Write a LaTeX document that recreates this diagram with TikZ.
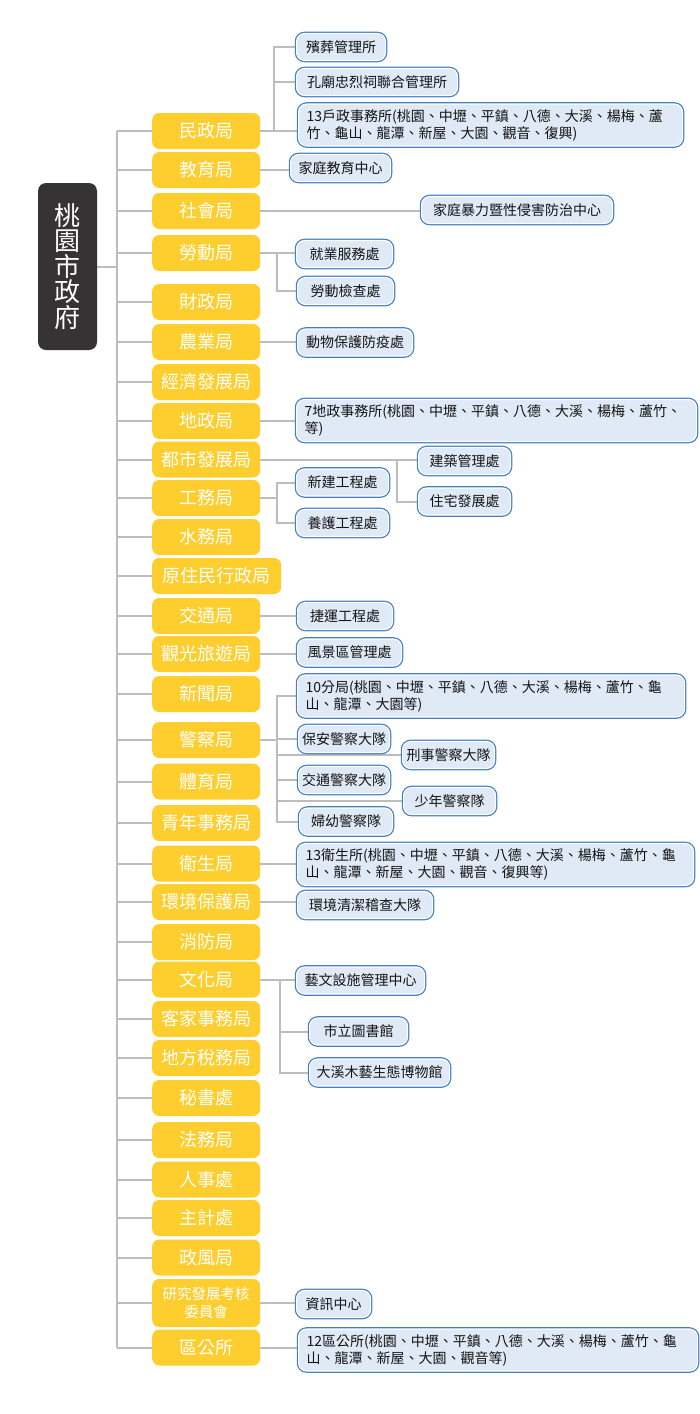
\documentclass[tikz,border=0pt]{standalone}
\usepackage{fontspec}
\setmainfont{Noto Sans CJK TC}
\usepackage{tikz}
\usetikzlibrary{backgrounds}

\definecolor{deptyellow}{HTML}{FDCE2E}
\definecolor{rootgray}{HTML}{363334}
\definecolor{linkgray}{HTML}{BDBDBD}
\definecolor{unitblue}{HTML}{4380C4}
\definecolor{unitfill}{HTML}{E0E9F6}

\tikzset{
  dept/.style={fill=deptyellow, rounded corners=7pt, minimum width=108pt, minimum height=36pt,
    inner sep=0pt, text=white, font=\fontsize{18}{20}\selectfont, anchor=west},
  unit/.style={preaction={draw=unitblue, line width=3.6pt}, fill=unitfill, draw=white, line width=1.1pt,
    rounded corners=8pt, minimum height=27pt, inner xsep=3pt, inner ysep=2pt,
    text=black!92, font=\fontsize{14}{17}\selectfont, anchor=west},
  wideunit/.style={unit, inner xsep=8pt, align=left, minimum height=42pt},
  link/.style={draw=linkgray, line width=2pt}
}

\begin{document}
\begin{tikzpicture}[x=1pt, y=-1pt]
    \useasboundingbox (0,0) rectangle (700,1414);

    % root
    \node[fill=rootgray, rounded corners=8pt, minimum width=59pt, minimum height=167pt, inner sep=0pt,
      text=white, align=center, font=\fontsize{26}{25.5}\selectfont] (gov) at (67.5,266.5) {桃\\園\\市\\政\\府};
    \coordinate (tr) at (117,0);

    % departments
    \node[dept] (civil) at (152,131) {民政局};
    \node[dept] (edu) at (152,170) {教育局};
    \node[dept] (social) at (152,211) {社會局};
    \node[dept] (labor) at (152,253) {勞動局};
    \node[dept] (finance) at (152,302) {財政局};
    \node[dept] (agri) at (152,342) {農業局};
    \node[dept] (econ) at (152,382) {經濟發展局};
    \node[dept] (land) at (152,421) {地政局};
    \node[dept] (urban) at (152,459.5) {都市發展局};
    \node[dept] (works) at (152,498) {工務局};
    \node[dept] (water) at (152,537) {水務局};
    \node[dept, minimum width=129pt] (indig) at (152,576) {原住民行政局};
    \node[dept] (trans) at (152,616) {交通局};
    \node[dept] (tour) at (152,654) {觀光旅遊局};
    \node[dept] (news) at (152,694) {新聞局};
    \node[dept] (police) at (152,740) {警察局};
    \node[dept] (sport) at (152,781.5) {體育局};
    \node[dept] (youth) at (152,823) {青年事務局};
    \node[dept] (health) at (152,863.5) {衛生局};
    \node[dept] (env) at (152,902) {環境保護局};
    \node[dept] (fire) at (152,942) {消防局};
    \node[dept] (culture) at (152,979.5) {文化局};
    \node[dept] (hakka) at (152,1019) {客家事務局};
    \node[dept] (tax) at (152,1058) {地方稅務局};
    \node[dept] (secr) at (152,1098) {秘書處};
    \node[dept] (legal) at (152,1140) {法務局};
    \node[dept] (pers) at (152,1179.5) {人事處};
    \node[dept] (acct) at (152,1218) {主計處};
    \node[dept] (ethic) at (152,1257.5) {政風局};
    \node[dept, minimum height=48pt, align=center, font=\fontsize{14.5}{18}\selectfont] (rdec) at (152,1303) {研究發展考核\\委員會};
    \node[dept] (dist) at (152,1347.5) {區公所};

    % units under the departments
    \node[unit, minimum width=89pt] (civilA) at (296,47) {殯葬管理所};
    \node[unit, minimum width=161pt] (civilB) at (296,82) {孔廟忠烈祠聯合管理所};
    \node[wideunit, text width=368pt] (civilC) at (298,125) {13戶政事務所(桃園、中壢、平鎮、八德、大溪、楊梅、蘆\\竹、龜山、龍潭、新屋、大園、觀音、復興)};
    \node[unit, minimum width=100pt] (eduA) at (290,168) {家庭教育中心};
    \node[unit, minimum width=191pt] (socialA) at (421,210) {家庭暴力暨性侵害防治中心};
    \node[unit, minimum width=96pt] (laborA) at (296,254) {就業服務處};
    \node[unit, minimum width=96pt] (laborB) at (297,291) {勞動檢查處};
    \node[unit, minimum width=115pt] (agriA) at (297,342.5) {動物保護防疫處};
    \node[wideunit, text width=384pt] (landA) at (296,420.5) {7地政事務所(桃園、中壢、平鎮、八德、大溪、楊梅、蘆竹、\\等)};
    \node[unit, minimum width=92pt] (urbanA) at (418,461) {建築管理處};
    \node[unit, minimum width=92pt] (urbanB) at (418,501.5) {住宅發展處};
    \node[unit, minimum width=92pt] (worksA) at (296,482.5) {新建工程處};
    \node[unit, minimum width=92pt] (worksB) at (296,523) {養護工程處};
    \node[unit, minimum width=95pt] (transA) at (297,616) {捷運工程處};
    \node[unit, minimum width=104pt] (tourA) at (297,652.5) {風景區管理處};
    \node[wideunit, text width=371pt] (polA) at (297,696) {10分局(桃園、中壢、平鎮、八德、大溪、楊梅、蘆竹、龜\\山、龍潭、大園等)};
    \node[unit, minimum width=91pt] (polB) at (298,739) {保安警察大隊};
    \node[unit, minimum width=92pt] (polC) at (402,755) {刑事警察大隊};
    \node[unit, minimum width=91pt] (polD) at (298,780) {交通警察大隊};
    \node[unit, minimum width=92pt] (polE) at (403,801) {少年警察隊};
    \node[unit, minimum width=93pt] (polF) at (299,821.5) {婦幼警察隊};
    \node[wideunit, text width=380pt] (healthA) at (297,864.5) {13衛生所(桃園、中壢、平鎮、八德、大溪、楊梅、蘆竹、龜\\山、龍潭、新屋、大園、觀音、復興等)};
    \node[unit, minimum width=135pt] (envA) at (297,905) {環境清潔稽查大隊};
    \node[unit, minimum width=128pt] (cultA) at (296,980.5) {藝文設施管理中心};
    \node[unit, minimum width=98pt] (cultB) at (309,1031.5) {市立圖書館};
    \node[unit, minimum width=140pt] (cultC) at (309,1072.5) {大溪木藝生態博物館};
    \node[unit, minimum width=74pt] (rdecA) at (296,1304) {資訊中心};
    \node[wideunit, text width=383pt] (distA) at (298,1350) {12區公所(桃園、中壢、平鎮、八德、大溪、楊梅、蘆竹、龜\\山、龍潭、新屋、大園、觀音等)};

    \coordinate (civilJ) at (274,0);
    \coordinate (laborJ) at (277,0);
    \coordinate (urbanJ) at (397,0);
    \coordinate (worksJ) at (277,0);
    \coordinate (polJ) at (277,0);
    \coordinate (cultJ) at (280,0);

    \begin{scope}[on background layer]
      % trunk
      \draw[link] (gov.east) -- (gov.east -| tr);
      \draw[link] (tr |- civil.west) -- (tr |- dist.west);
      \draw[link] (civil.west -| tr) -- (civil.west) (edu.west -| tr) -- (edu.west)
        (social.west -| tr) -- (social.west) (labor.west -| tr) -- (labor.west)
        (finance.west -| tr) -- (finance.west) (agri.west -| tr) -- (agri.west)
        (econ.west -| tr) -- (econ.west) (land.west -| tr) -- (land.west)
        (urban.west -| tr) -- (urban.west) (works.west -| tr) -- (works.west)
        (water.west -| tr) -- (water.west) (indig.west -| tr) -- (indig.west)
        (trans.west -| tr) -- (trans.west) (tour.west -| tr) -- (tour.west)
        (news.west -| tr) -- (news.west) (police.west -| tr) -- (police.west)
        (sport.west -| tr) -- (sport.west) (youth.west -| tr) -- (youth.west)
        (health.west -| tr) -- (health.west) (env.west -| tr) -- (env.west)
        (fire.west -| tr) -- (fire.west) (culture.west -| tr) -- (culture.west)
        (hakka.west -| tr) -- (hakka.west) (tax.west -| tr) -- (tax.west)
        (secr.west -| tr) -- (secr.west) (legal.west -| tr) -- (legal.west)
        (pers.west -| tr) -- (pers.west) (acct.west -| tr) -- (acct.west)
        (ethic.west -| tr) -- (ethic.west) (rdec.west -| tr) -- (rdec.west)
        (dist.west -| tr) -- (dist.west);

      % branches to units
      \draw[link] (civil.east) -- (civil.east -| civilC.west);
      \draw[link] (civilJ |- civil.east) -- (civilJ |- civilA) -- (civilA.west);
      \draw[link] (civilJ |- civilB) -- (civilB.west);
      \draw[link] (edu.east) -- (edu.east -| eduA.west);
      \draw[link] (social.east) -- (social.east -| socialA.west);
      \draw[link] (labor.east) -- (labor.east -| laborA.west);
      \draw[link] (laborJ |- labor.east) -- (laborJ |- laborB) -- (laborB.west);
      \draw[link] (agri.east) -- (agri.east -| agriA.west);
      \draw[link] (land.east) -- (land.east -| landA.west);
      \draw[link] (urban.east) -- (urban.east -| urbanA.west);
      \draw[link] (urbanJ |- urban.east) -- (urbanJ |- urbanB) -- (urbanB.west);
      \draw[link] (works.east) -- (works.east -| worksJ);
      \draw[link] (worksA.west) -- (worksJ |- worksA) -- (worksJ |- worksB) -- (worksB.west);
      \draw[link] (trans.east) -- (trans.east -| transA.west);
      \draw[link] (tour.east) -- (tour.east -| tourA.west);
      \draw[link] (police.east) -- (police.east -| polJ);
      \draw[link] (polA.west) -- (polJ |- polA) -- (polJ |- polF) -- (polF.west);
      \draw[link] (polJ |- polB) -- (polB.west);
      \draw[link] (polJ |- polC) -- (polC.west);
      \draw[link] (polJ |- polD) -- (polD.west);
      \draw[link] (polJ |- polE) -- (polE.west);
      \draw[link] (health.east) -- (health.east -| healthA.west);
      \draw[link] (env.east) -- (env.east -| envA.west);
      \draw[link] (culture.east) -- (culture.east -| cultA.west);
      \draw[link] (cultJ |- culture.east) -- (cultJ |- cultC) -- (cultC.west);
      \draw[link] (cultJ |- cultB) -- (cultB.west);
      \draw[link] (rdec.east) -- (rdec.east -| rdecA.west);
      \draw[link] (dist.east) -- (dist.east -| distA.west);
    \end{scope}
\end{tikzpicture}
\end{document}
